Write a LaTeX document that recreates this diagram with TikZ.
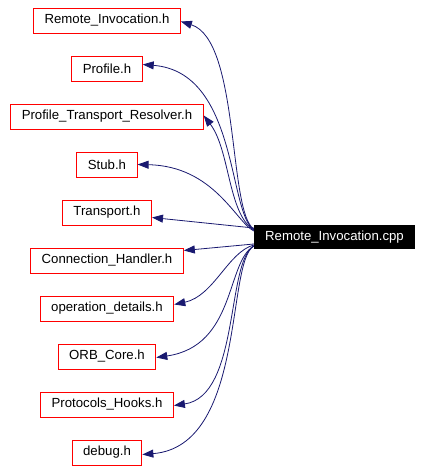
\documentclass[tikz,border=0pt]{standalone}
\usepackage{fontspec}
\setmainfont{Liberation Sans}
\usetikzlibrary{arrows.meta}
\definecolor{edgeblue}{HTML}{191970}

\begin{document}
\begin{tikzpicture}[
    x=1pt, y=-1pt,
    font=\fontsize{13.2}{15}\selectfont,
    hdr/.style={rectangle, draw=red, line width=1pt, minimum height=25pt, inner xsep=11pt, inner ysep=0pt},
    mainbox/.style={rectangle, fill=black, text=white, minimum width=161pt, minimum height=24pt, inner xsep=0pt},
    dep/.style={edgeblue, line width=0.8pt, -{Triangle[length=11pt, width=8pt]}}
]
\useasboundingbox (0,0) rectangle (423,471);

% ---- Source file ----
\node[mainbox] (cpp) at (334.5,237) {Remote\_Invocation.cpp};

% ---- Included headers ----
\node[hdr] (ri) at (107,20.5) {Remote\_Invocation.h};
\node[hdr] (prof) at (107,68.5) {Profile.h};
\node[hdr] (ptr) at (107,116.5) {Profile\_Transport\_Resolver.h};
\node[hdr] (stub) at (107,164.5) {Stub.h};
\node[hdr] (trans) at (107,212.5) {Transport.h};
\node[hdr] (conn) at (107,260.5) {Connection\_Handler.h};
\node[hdr] (opdet) at (107,308.5) {operation\_details.h};
\node[hdr] (orb) at (107,356.5) {ORB\_Core.h};
\node[hdr] (hooks) at (107,404.5) {Protocols\_Hooks.h};
\node[hdr] (dbg) at (107,452.5) {debug.h};

% ---- Include edges ----
\draw[dep] ([yshift=8pt]cpp.west) .. controls (228,212) and (240,40) .. ([yshift=-1pt]ri.east);
\draw[dep] ([yshift=7pt]cpp.west) .. controls (228,212) and (238,72) .. ([yshift=4pt]prof.east);
\draw[dep] ([yshift=7pt]cpp.west) .. controls (228,214) and (230,150) .. ([yshift=-12pt]ptr.north east);
\draw[dep] ([yshift=6pt]cpp.west) .. controls (236,222) and (214,166) .. (stub.east);
\draw[dep] ([yshift=9pt]cpp.west) -- ([yshift=-5pt]trans.east);
\draw[dep] ([yshift=-7pt]cpp.west) -- ([yshift=10pt]conn.east);
\draw[dep] ([yshift=-8pt]cpp.west) .. controls (228,252) and (214,296) .. ([yshift=4pt]opdet.east);
\draw[dep] ([yshift=-9pt]cpp.west) .. controls (226,262) and (236,346) .. ([yshift=-1pt]orb.east);
\draw[dep] ([yshift=-9pt]cpp.west) .. controls (226,262) and (240,396) .. ([yshift=-1pt]hooks.east);
\draw[dep] ([yshift=-9pt]cpp.west) .. controls (226,262) and (246,446) .. ([yshift=-2pt]dbg.east);
\end{tikzpicture}
\end{document}
